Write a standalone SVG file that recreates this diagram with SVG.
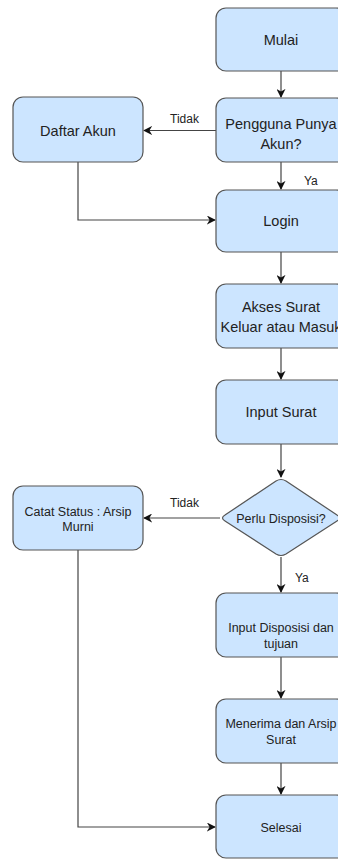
<svg xmlns="http://www.w3.org/2000/svg" width="338" height="859" viewBox="0 0 338 859">
<defs>
<marker id="arr" viewBox="0 0 10 10" refX="9" refY="5" markerWidth="9" markerHeight="9" markerUnits="userSpaceOnUse" orient="auto">
<path d="M0,0 L10,5 L0,10 L3,5 Z" fill="#111"/>
</marker>
<style>
.box{fill:#cce5ff;stroke:#555;stroke-width:1.2}
.t{font-family:"Liberation Sans",Arial,sans-serif;fill:#222;text-anchor:middle}
.big{font-size:14.5px}
.sm{font-size:12.5px}
.lbl{font-family:"Liberation Sans",Arial,sans-serif;fill:#222;font-size:12px}
.c{fill:none;stroke:#444;stroke-width:1.2}
</style>
</defs>
<rect width="338" height="859" fill="#fff"/>
<g id="connectors">
<path class="c" d="M281,71 V97" marker-end="url(#arr)"/>
<path class="c" d="M216,130.5 H144" marker-end="url(#arr)"/>
<path class="c" d="M281,162 V189" marker-end="url(#arr)"/>
<path class="c" d="M78,162 V220 H215" marker-end="url(#arr)"/>
<path class="c" d="M281,252 V283" marker-end="url(#arr)"/>
<path class="c" d="M281,348 V379" marker-end="url(#arr)"/>
<path class="c" d="M281,444 V477" marker-end="url(#arr)"/>
<path class="c" d="M220,518 H144" marker-end="url(#arr)"/>
<path class="c" d="M281,557 V592" marker-end="url(#arr)"/>
<path class="c" d="M281,657 V698" marker-end="url(#arr)"/>
<path class="c" d="M281,763 V794" marker-end="url(#arr)"/>
<path class="c" d="M78,550 V827 H215" marker-end="url(#arr)"/>
<text class="lbl" x="170" y="123">Tidak</text>
<text class="lbl" x="304" y="185">Ya</text>
<text class="lbl" x="170" y="507">Tidak</text>
<text class="lbl" x="295" y="582">Ya</text>
</g>
<g id="mulai"><rect class="box" x="216" y="8" width="130" height="63" rx="10"/><text class="t big" x="281" y="45">Mulai</text></g>
<g id="pengguna"><rect class="box" x="216" y="98" width="130" height="64" rx="10"/><text class="t big" x="281" y="129">Pengguna Punya</text><text class="t big" x="281" y="149">Akun?</text></g>
<g id="daftar"><rect class="box" x="13" y="97" width="130" height="65" rx="10"/><text class="t big" x="78" y="136">Daftar Akun</text></g>
<g id="login"><rect class="box" x="216" y="190" width="130" height="62" rx="10"/><text class="t big" x="281" y="226">Login</text></g>
<g id="akses"><rect class="box" x="216" y="284" width="130" height="64" rx="10"/><text class="t big" x="281" y="312">Akses Surat</text><text class="t big" x="281" y="332">Keluar atau Masuk</text></g>
<g id="input"><rect class="box" x="216" y="380" width="130" height="64" rx="10"/><text class="t big" x="281" y="417">Input Surat</text></g>
<g id="perlu"><path class="box" d="M276,481 Q281,478 286,481 L337,515 Q342,518 337,521 L286,554 Q281,557 276,554 L225,521 Q220,518 225,515 Z"/><text class="t sm" x="281" y="522.5">Perlu Disposisi?</text></g>
<g id="catat"><rect class="box" x="13" y="486" width="130" height="64" rx="10"/><text class="t sm" x="78" y="515.5">Catat Status : Arsip</text><text class="t sm" x="78" y="530.5">Murni</text></g>
<g id="inputdisp"><rect class="box" x="216" y="593" width="130" height="64" rx="10"/><text class="t sm" x="281" y="631.5">Input Disposisi dan</text><text class="t sm" x="281" y="647.5">tujuan</text></g>
<g id="menerima"><rect class="box" x="216" y="699" width="130" height="64" rx="10"/><text class="t sm" x="281" y="727.5">Menerima dan Arsip</text><text class="t sm" x="281" y="743.5">Surat</text></g>
<g id="selesai"><rect class="box" x="216" y="795" width="130" height="63" rx="10"/><text class="t sm" x="281" y="831.5">Selesai</text></g>
</svg>
